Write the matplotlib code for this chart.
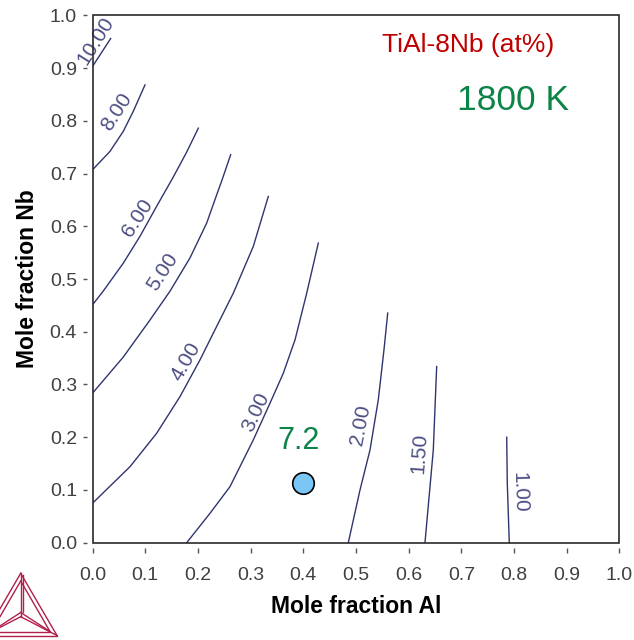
import matplotlib.pyplot as plt
from matplotlib.lines import Line2D
from matplotlib.patches import Rectangle

plt.rcParams['font.family'] = ['Liberation Sans', 'DejaVu Sans']

# Isolines: mole fraction Al (x) against mole fraction Nb (y)
levels = ["10.00", "8.00", "6.00", "5.00", "4.00", "3.00", "2.00", "1.50", "1.00"]

al_10 = [0.000, 0.0345]
nb_10 = [0.903, 0.956]

al_8 = [0.000, 0.0332, 0.0584, 0.0774, 0.0996]
nb_8 = [0.707, 0.742, 0.780, 0.818, 0.868]

al_6 = [0.000, 0.0205, 0.0584, 0.0901, 0.1218, 0.1533, 0.1788, 0.2008]
nb_6 = [0.451, 0.4773, 0.530, 0.581, 0.638, 0.6934, 0.7408, 0.786]

al_5 = [0.000, 0.0584, 0.1091, 0.1471, 0.1850, 0.2167, 0.2357, 0.2452, 0.2622]
nb_5 = [0.2835, 0.352, 0.4223, 0.4770, 0.5400, 0.6061, 0.6598, 0.6860, 0.7357]

al_4 = [0.000, 0.0712, 0.1218, 0.1660, 0.2040, 0.2292, 0.2672, 0.3051, 0.3336]
nb_4 = [0.0748, 0.1442, 0.2076, 0.2770, 0.3467, 0.3973, 0.4732, 0.5617, 0.6565]

al_3 = [0.1787, 0.2230, 0.2609, 0.3051, 0.3368, 0.3621, 0.3843, 0.4065, 0.4285]
nb_3 = [0.000, 0.0558, 0.1063, 0.1949, 0.2645, 0.3214, 0.3846, 0.4732, 0.5681]

al_2 = [0.4854, 0.5076, 0.5266, 0.5423, 0.5531, 0.5602]
nb_2 = [0.000, 0.1000, 0.1759, 0.2708, 0.3657, 0.4353]

al_15 = [0.6309, 0.6467, 0.6531]
nb_15 = [0.000, 0.1759, 0.3340]

al_1 = [0.7909, 0.7871, 0.7860]
nb_1 = [0.000, 0.1127, 0.2000]

# Alloy point TiAl-8Nb and its value
alloy_al = 0.40
alloy_nb = 0.113
alloy_value = "7.2"

ticks = [0.0, 0.1, 0.2, 0.3, 0.4, 0.5, 0.6, 0.7, 0.8, 0.9, 1.0]
tick_labels = ["0.0", "0.1", "0.2", "0.3", "0.4", "0.5", "0.6", "0.7", "0.8", "0.9", "1.0"]

LINE_COLOR = "#30346f"
LABEL_COLOR = "#4b4f82"
LOGO_COLOR = "#b0204a"


def nacrtaj_izolinije(ax):
    """Draws every isoline and puts its level next to it."""
    lines = [(al_10, nb_10), (al_8, nb_8), (al_6, nb_6), (al_5, nb_5),
             (al_4, nb_4), (al_3, nb_3), (al_2, nb_2), (al_15, nb_15),
             (al_1, nb_1)]
    # label spot (x, y) and text angle for each level
    label_spots = [(0.0066, 0.951, 58), (0.0465, 0.817, 57),
                   (0.0863, 0.616, 57), (0.1338, 0.5137, 57),
                   (0.1774, 0.3427, 60), (0.3102, 0.2480, 65),
                   (0.5076, 0.2233, 79), (0.6196, 0.1702, 86),
                   (0.8102, 0.0962, -88.5)]
    for (xs, ys), level, (lx, ly, rot) in zip(lines, levels, label_spots):
        ax.plot(xs, ys, color=LINE_COLOR, lw=1.0, zorder=2,
                solid_joinstyle="round")
        ax.text(lx, ly, level, rotation=rot, rotation_mode="anchor",
                ha="center", va="center", fontsize=15, color=LABEL_COLOR,
                zorder=3)


def nacrtaj_logo(fig):
    """Small triangle logo in the lower left corner (pixel coordinates)."""
    w, h = 634.0, 640.0

    def seg(p, q):
        fig.add_artist(Line2D([p[0] / w, q[0] / w], [1 - p[1] / h, 1 - q[1] / h],
                              transform=fig.transFigure, color=LOGO_COLOR,
                              lw=1.0))

    A, B, C = (20.7, 573.3), (57.0, 635.5), (-15.6, 635.5)
    a, b, c = (20.7, 581.0), (50.0, 631.5), (-8.6, 631.5)
    O, o = (20.7, 616.7), (20.7, 612.5)
    seg(A, B)
    seg(A, C)
    seg(B, C)
    seg(a, b)
    seg(a, c)
    seg(b, c)
    seg(A, O)
    seg((22.5, 575.0), (22.5, 612.0))
    seg(O, B)
    seg(O, C)
    seg(o, b)
    seg(o, c)


fig = plt.figure(figsize=(6.34, 6.40), dpi=100)
ax = fig.add_axes([0.1459, 0.1520, 0.8312, 0.8241])
ax.set_xlim(0, 1)
ax.set_ylim(0, 1)

nacrtaj_izolinije(ax)

ax.plot(alloy_al, alloy_nb, "o", markersize=15.5, markerfacecolor="#7cc6f6",
        markeredgecolor="black", markeredgewidth=1.2, zorder=4)
ax.text(0.3906, 0.1934, alloy_value, ha="center", va="center", fontsize=22,
        color="#0b8447")

ax.text(0.7133, 0.9437, "TiAl-8Nb (at%)", ha="center", va="center",
        fontsize=19, color="#c00000")
ax.text(0.7970, 0.8379, "1800 K", ha="center", va="center", fontsize=25.5,
        color="#0b8447")

# frame drawn separately so the ticks can sit a little away from it
for s in ax.spines.values():
    s.set_color("none")
ax.spines["left"].set_position(("outward", 4))
ax.spines["bottom"].set_position(("outward", 4))
ax.add_patch(Rectangle((0, 0), 1, 1, transform=ax.transAxes, fill=False,
                       ec="#2a2a2a", lw=1.2, clip_on=False, zorder=5))

ax.set_xticks(ticks)
ax.set_xticklabels(tick_labels)
ax.set_yticks(ticks)
ax.set_yticklabels(tick_labels)
ax.tick_params(axis="x", length=3.6, width=1.0, color="#555555", pad=10,
               labelsize=14, labelcolor="#404040")
ax.tick_params(axis="y", length=2.9, width=1.0, color="#555555", pad=4.3,
               labelsize=14, labelcolor="#404040")

ax.set_xlabel("Mole fraction Al", fontsize=16.5, fontweight="bold")
ax.set_ylabel("Mole fraction Nb", fontsize=16.5, fontweight="bold")
ax.xaxis.set_label_coords(0.5, -0.1214)
ax.xaxis.label.set_va("center")
ax.yaxis.set_label_coords(-0.1233, 0.5)
ax.yaxis.label.set_va("center")

nacrtaj_logo(fig)

fig.savefig("out.png", dpi=100, facecolor="white")
